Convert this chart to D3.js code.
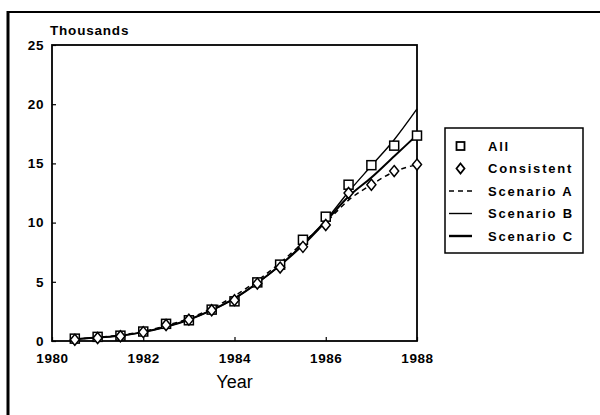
<!DOCTYPE html>
<html>
<head>
<meta charset="utf-8">
<script src="https://cdn.jsdelivr.net/npm/d3@7"></script>
<style>
  body { margin: 0; background: #fff; }
  svg { font-family: "Liberation Sans", Arial, sans-serif; }
</style>
</head>
<body>
<div id="chart"></div>
<script>
// half-year steps from mid 1980 to 1988
var years = [1980.5, 1981, 1981.5, 1982, 1982.5, 1983, 1983.5, 1984,
             1984.5, 1985, 1985.5, 1986, 1986.5, 1987, 1987.5, 1988];
var allCases = [0.2, 0.35, 0.45, 0.8, 1.45, 1.75, 2.65, 3.35,
                4.95, 6.45, 8.55, 10.5, 13.2, 14.85, 16.5, 17.35];
var consistent = [0.1, 0.25, 0.4, 0.75, 1.35, 1.8, 2.6, 3.45,
                  4.85, 6.2, 7.95, 9.8, 12.5, 13.2, 14.35, 14.9];
var scenarioA = [0.15, 0.3, 0.5, 0.8, 1.3, 1.9, 2.75, 3.8,
                 5.1, 6.6, 8.3, 10.0, 11.9, 13.2, 14.3, 14.9];
var scenarioB = [0.15, 0.3, 0.45, 0.75, 1.2, 1.8, 2.6, 3.6,
                 4.9, 6.4, 8.2, 10.2, 12.6, 14.8, 17.0, 19.6];
var scenarioC = [0.15, 0.3, 0.45, 0.75, 1.2, 1.8, 2.6, 3.6,
                 4.9, 6.4, 8.1, 10.1, 12.2, 13.8, 15.6, 17.4];
var xTicks = [1980, 1982, 1984, 1986, 1988];
var yTicks = [0, 5, 10, 15, 20, 25];
var legendLabels = ["All", "Consistent", "Scenario A", "Scenario B", "Scenario C"];

var W = 600, H = 415;
var margin = { top: 45, left: 52 },
    width = 365, height = 296;

var svg = d3.select("#chart").append("svg")
    .attr("width", W).attr("height", H);

// outer frame (only top and left survive in the scan)
svg.append("line").attr("x1", 8).attr("x2", 8).attr("y1", 11).attr("y2", H)
    .attr("stroke", "#000").attr("stroke-width", 3);
svg.append("line").attr("x1", 7).attr("x2", W).attr("y1", 12).attr("y2", 12)
    .attr("stroke", "#000").attr("stroke-width", 2);

var g = svg.append("g")
    .attr("transform", "translate(" + margin.left + "," + margin.top + ")");

var x = d3.scaleLinear().domain([1980, 1988]).range([0, width]);
var y = d3.scaleLinear().domain([0, 25]).range([height, 0]);

var xAxis = g.append("g")
    .attr("transform", "translate(0," + height + ")")
    .call(d3.axisBottom(x).tickValues(xTicks).tickFormat(d3.format("d"))
        .tickSizeInner(-4).tickSizeOuter(0).tickPadding(12));
var yAxis = g.append("g")
    .call(d3.axisLeft(y).tickValues(yTicks)
        .tickSizeInner(-4).tickSizeOuter(0).tickPadding(8));

[xAxis, yAxis].forEach(function (a) {
    a.select(".domain").remove();
    a.selectAll("line").attr("stroke", "#000").attr("stroke-width", 1.2);
    a.selectAll("text")
        .style("font-size", "13.5px").style("font-weight", "bold")
        .style("letter-spacing", "0.6px").attr("fill", "#000");
});

// plot box
g.append("rect").attr("width", width).attr("height", height)
    .attr("fill", "none").attr("stroke", "#000").attr("stroke-width", 1.8);

var line = d3.line()
    .x(function (d, i) { return x(years[i]); })
    .y(function (d) { return y(d); })
    .curve(d3.curveMonotoneX);

g.append("path").datum(scenarioA).attr("d", line)
    .attr("fill", "none").attr("stroke", "#000").attr("stroke-width", 1.5)
    .attr("stroke-dasharray", "5,4");
g.append("path").datum(scenarioB).attr("d", line)
    .attr("fill", "none").attr("stroke", "#000").attr("stroke-width", 1.4);
g.append("path").datum(scenarioC).attr("d", line)
    .attr("fill", "none").attr("stroke", "#000").attr("stroke-width", 2);

function diamondPath(w, h) {
    return "M0," + (-h) + "L" + w + ",0L0," + h + "L" + (-w) + ",0Z";
}

g.selectAll(".sq").data(allCases).enter().append("rect")
    .attr("x", function (d, i) { return x(years[i]) - 4.5; })
    .attr("y", function (d) { return y(d) - 4.5; })
    .attr("width", 9).attr("height", 9)
    .attr("fill", "#fff").attr("stroke", "#000").attr("stroke-width", 1.5);

g.selectAll(".dm").data(consistent).enter().append("path")
    .attr("d", diamondPath(4.5, 5.5))
    .attr("transform", function (d, i) { return "translate(" + x(years[i]) + "," + y(d) + ")"; })
    .attr("fill", "#fff").attr("stroke", "#000").attr("stroke-width", 1.5);

g.append("text").attr("x", -2).attr("y", -10)
    .style("font-size", "13.5px").style("font-weight", "bold")
    .style("letter-spacing", "0.8px").text("Thousands");

svg.append("text").attr("x", margin.left + x(1984)).attr("y", 388)
    .attr("text-anchor", "middle").style("font-size", "18px")
    .text("Year");

// legend
var lg = svg.append("g").attr("transform", "translate(445,128)");
lg.append("rect").attr("width", 138).attr("height", 125)
    .attr("fill", "#fff").attr("stroke", "#000").attr("stroke-width", 1.5);
legendLabels.forEach(function (lab, i) {
    var ly = 18 + i * 22.5;
    if (i === 0) {
        lg.append("rect").attr("x", 11.5).attr("y", ly - 4).attr("width", 8).attr("height", 8)
            .attr("fill", "#fff").attr("stroke", "#000").attr("stroke-width", 1.8);
    } else if (i === 1) {
        lg.append("path").attr("d", diamondPath(4, 5))
            .attr("transform", "translate(15.5," + ly + ")")
            .attr("fill", "#fff").attr("stroke", "#000").attr("stroke-width", 1.8);
    } else {
        lg.append("line").attr("x1", 4).attr("x2", 27).attr("y1", ly).attr("y2", ly)
            .attr("stroke", "#000")
            .attr("stroke-width", i === 4 ? 2.4 : 1.4)
            .attr("stroke-dasharray", i === 2 ? "5,4" : null);
    }
    lg.append("text").attr("x", 43).attr("y", ly + 4.5)
        .style("font-size", "13px").style("font-weight", "bold")
        .style("letter-spacing", "1.8px").text(lab);
});
</script>
</body>
</html>
